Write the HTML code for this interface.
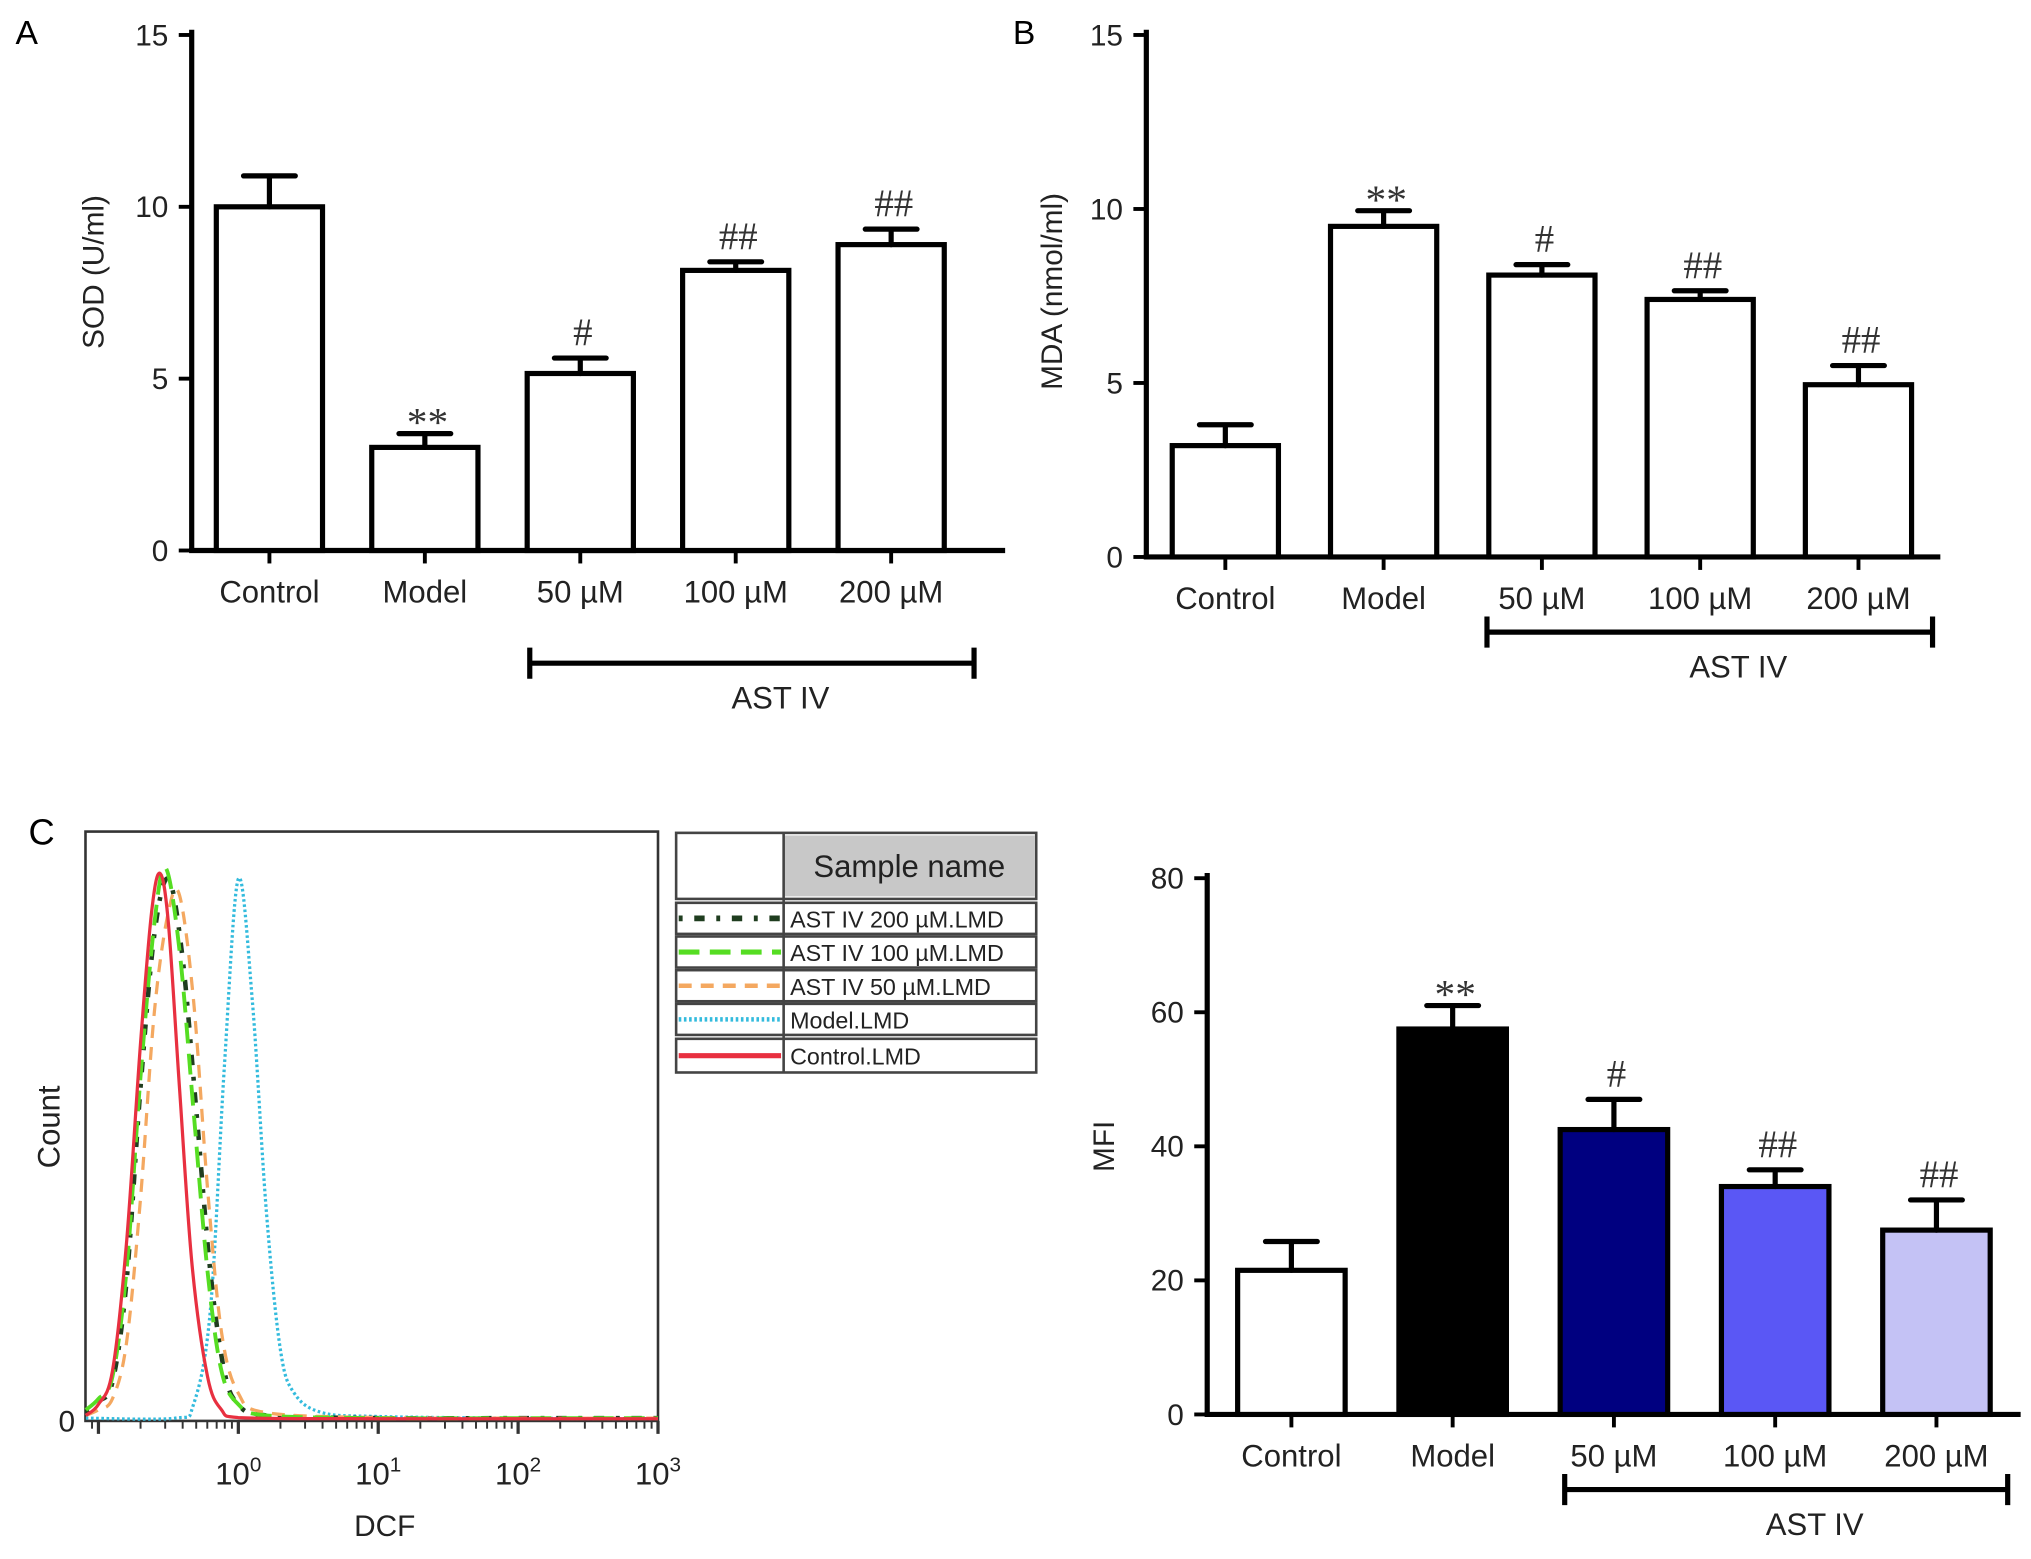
<!DOCTYPE html>
<html><head><meta charset="utf-8"><style>
html,body{margin:0;padding:0;background:#fff;}
svg{display:block;font-family:"Liberation Sans",sans-serif;}
</style></head><body>
<svg id="fig" width="2031" height="1559" viewBox="0 0 1568 1203.6">
<text x="12" y="34" font-size="26">A</text>
<text x="782" y="34" font-size="26">B</text>
<text x="22" y="652" font-size="28">C</text>
<g id="gA"></g>
<g id="gB"></g>
<g id="gH"></g>
<g id="gM"></g>
</svg>
<script>
const categories = ["Control","Model","50 µM","100 µM","200 µM"];
const sodValues = [10.0,3.0,5.15,8.15,8.9];
const sodErrors = [0.9,0.4,0.45,0.25,0.45];
const sodMarks = ["","**","#","##","##"];
const mdaValues = [3.2,9.5,8.1,7.4,4.95];
const mdaErrors = [0.6,0.45,0.3,0.25,0.55];
const mdaMarks = ["","**","#","##","##"];
const mfiValues = [21.5,57.5,42.5,34,27.5];
const mfiErrors = [4.3,3.5,4.5,2.5,4.5];
const mfiMarks = ["","**","#","##","##"];
const mfiColors = ["#ffffff","#000000","#000080","#5a57f5","#c4c2f5"];
const ticks15 = [0,5,10,15];
const ticks80 = [0,20,40,60,80];
// histogram series: [log10(DCF), count (% of max)]
const histControl = [[-1.09,1],[-1.0,3],[-0.9,9],[-0.8,32],[-0.7,68],[-0.62,92],[-0.56,99],[-0.5,90],[-0.42,60],[-0.33,28],[-0.22,8],[-0.12,2],[0,0.6],[1,0.4],[2,0.4],[3,0.4]];
const histModel = [[-1.09,0.5],[-0.45,0.5],[-0.32,3],[-0.2,20],[-0.1,64],[0,98],[0.1,76],[0.2,38],[0.3,13],[0.4,5],[0.6,1.5],[1,0.8],[2,0.5],[3,0.4]];
const hist100 = [[-1.09,2],[-1.0,4],[-0.9,8],[-0.8,27],[-0.7,62],[-0.6,90],[-0.52,100],[-0.42,85],[-0.32,56],[-0.22,27],[-0.12,9],[0,3],[0.2,1],[1,0.5],[2,0.5],[3,0.5]];
const hist200 = [[-1.09,1.5],[-1.0,3.5],[-0.9,7],[-0.8,25],[-0.7,60],[-0.6,88],[-0.5,98],[-0.4,84],[-0.3,56],[-0.2,27],[-0.1,9],[0,3],[0.2,1],[1,0.5],[2,0.5],[3,0.5]];
const hist50 = [[-1.09,1],[-1.0,2],[-0.9,4],[-0.8,14],[-0.7,40],[-0.6,74],[-0.5,92],[-0.42,95],[-0.32,76],[-0.22,42],[-0.12,16],[0,5],[0.2,1.5],[1,0.6],[2,0.5],[3,0.5]];
const histTickLabels = ["0","1","2","3"];
const legendNames = ["AST IV 200 µM.LMD","AST IV 100 µM.LMD","AST IV 50 µM.LMD","Model.LMD","Control.LMD"];

const NS="http://www.w3.org/2000/svg";
function mk(p,tag,at,txt){const e=document.createElementNS(NS,tag);for(const k in at)e.setAttribute(k,at[k]);if(txt!==undefined)e.textContent=txt;p.appendChild(e);return e;}

function barChart(gid,cfg){
  const g=document.getElementById(gid);
  const y=v=>cfg.y0-(v-0)*(cfg.y0-cfg.yTop)/cfg.max;
  const x=i=>cfg.x0+cfg.first+i*cfg.step;
  let a=mk(g,'line',{x1:cfg.xAxis,y1:cfg.yTop-4,x2:cfg.xAxis,y2:cfg.y0,stroke:'#000','stroke-width':4});
  
  a=mk(g,'line',{x1:cfg.xAxis-2,y1:cfg.y0,x2:cfg.xEnd,y2:cfg.y0,stroke:'#000','stroke-width':4});
  
  cfg.ticks.forEach(t=>{
    const l=mk(g,'line',{x1:cfg.xAxis-10,y1:y(t),x2:cfg.xAxis,y2:y(t),stroke:'#000','stroke-width':3});
    
    const tx=mk(g,'text',{x:cfg.xAxis-18,y:y(t)+8,'font-size':23,'text-anchor':'end',fill:'#222'},String(t));
    
  });
  const yt=mk(g,'text',{x:0,y:0,'font-size':23,'text-anchor':'middle',fill:'#222',transform:`translate(${cfg.titleX},${cfg.titleY}) rotate(-90)`},cfg.title);
  
  cfg.values.forEach((v,i)=>{
    const cx=x(i),w=cfg.bw;
    const r=mk(g,'rect',{x:cx-w/2,y:y(v),width:w,height:cfg.y0-y(v),fill:cfg.colors?cfg.colors[i]:'#fff',stroke:'#000','stroke-width':4});
    
    const e=cfg.errors[i];
    const el=mk(g,'path',{d:`M${cx},${y(v)} V${y(v+e)} M${cx-20},${y(v+e)} H${cx+20}`,stroke:'#000','stroke-width':4,fill:'none','stroke-linecap':'round'});
    
    const tk=mk(g,'line',{x1:cx,y1:cfg.y0,x2:cx,y2:cfg.y0+10,stroke:'#000','stroke-width':3});
    
    const lb=mk(g,'text',{x:cx,y:cfg.y0+40,'font-size':24,'text-anchor':'middle',fill:'#222'},categories[i]);
    
    if(cfg.marks[i]){const st=cfg.marks[i]=='**';const m=mk(g,'text',{x:cx+2,y:y(v+e)-(st?-2:10),'font-size':st?32:30,'text-anchor':'middle',fill:'#333','font-family':'Liberation Serif, serif'},cfg.marks[i]);
      }
  });
  const b=mk(g,'path',{d:`M${cfg.br0},${cfg.brY} H${cfg.br1} M${cfg.br0},${cfg.brY-12} V${cfg.brY+12} M${cfg.br1},${cfg.brY-12} V${cfg.brY+12}`,stroke:'#000','stroke-width':4,fill:'none'});
  
  const bt=mk(g,'text',{x:(cfg.br0+cfg.br1)/2+22,y:cfg.brY+35,'font-size':24,'text-anchor':'middle',fill:'#222'},'AST IV');
  
}
barChart('gA',{xAxis:148,xEnd:776,x0:0,first:208,step:120,bw:82,y0:425,yTop:27,max:15,ticks:ticks15,values:sodValues,errors:sodErrors,marks:sodMarks,title:'SOD (U/ml)',titleX:80,titleY:210,br0:409,br1:752,brY:512});
barChart('gB',{xAxis:885,xEnd:1498,x0:0,first:946,step:122.2,bw:82,y0:430,yTop:27,max:15,ticks:ticks15,values:mdaValues,errors:mdaErrors,marks:mdaMarks,title:'MDA (nmol/ml)',titleX:820,titleY:225,br0:1148,br1:1492,brY:488});
barChart('gM',{xAxis:932,xEnd:1560,x0:0,first:997,step:124.5,bw:83,y0:1092,yTop:678,max:80,ticks:ticks80,values:mfiValues,errors:mfiErrors,marks:mfiMarks,colors:mfiColors,title:'MFI',titleX:860,titleY:885,br0:1208,br1:1550,brY:1150});

// histogram
(function(){
  const g=document.getElementById('gH');
  const L=66,R=508,T=642,B=1097;
  const X=l=>184+l*108, Y=c=>B-c*(B-670)/100;
  let f=mk(g,'rect',{x:L,y:T,width:R-L,height:B-T,fill:'#fff',stroke:'#333','stroke-width':2});
  
  const z=mk(g,'text',{x:58,y:1105,'font-size':23,'text-anchor':'end',fill:'#222'},'0');
  
  for(let d=-2;d<3;d++){for(let k=1;k<=9;k++){const lx=X(d+Math.log10(k));if(lx<L||lx>R)continue;
    const t=mk(g,'line',{x1:lx,y1:B,x2:lx,y2:B+(k==1?10:6),stroke:'#333','stroke-width':k==1?2.5:1.5});
    }}
  const lt=mk(g,'line',{x1:R,y1:B,x2:R,y2:B+10,stroke:'#333','stroke-width':2.5});
  
  histTickLabels.forEach((s,i)=>{const t=mk(g,'text',{x:X(i),y:1146,'font-size':24,'text-anchor':'middle',fill:'#222'});
    
    mk(t,'tspan',{},'10');mk(t,'tspan',{dy:-10,'font-size':16},s);});
  const dt=mk(g,'text',{x:297,y:1186,'font-size':23,'text-anchor':'middle',fill:'#222'},'DCF');
  
  const ct=mk(g,'text',{x:0,y:0,'font-size':24,'text-anchor':'middle',fill:'#222',transform:'translate(46,870) rotate(-90)'},'Count');
  
  const styles=[
    {d:hist200,c:'#1f3d1f',w:3.5,da:'3 9 8 9'},
    {d:hist100,c:'#55dd22',w:3,da:'16 8'},
    {d:hist50,c:'#f4a860',w:2.5,da:'10 7'},
    {d:histModel,c:'#33bbdd',w:2.5,da:'2 2'},
    {d:histControl,c:'#e83040',w:2.5,da:''}];
  const order=[3,0,2,1,4];
  function path(pts){const P=pts.map(p=>[X(p[0]),Y(p[1])]);let s=`M${P[0][0]},${P[0][1]}`;
    for(let i=0;i<P.length-1;i++){const p0=P[Math.max(0,i-1)],p1=P[i],p2=P[i+1],p3=P[Math.min(P.length-1,i+2)];
      let c1=[p1[0]+(p2[0]-p0[0])/6,p1[1]+(p2[1]-p0[1])/6],c2=[p2[0]-(p3[0]-p1[0])/6,p2[1]-(p3[1]-p1[1])/6];
      c1[0]=Math.min(Math.max(c1[0],p1[0]),p2[0]);c2[0]=Math.min(Math.max(c2[0],p1[0]),p2[0]);
      c1[1]=Math.min(c1[1],B);c2[1]=Math.min(c2[1],B);
      s+=` C${c1[0]},${c1[1]} ${c2[0]},${c2[1]} ${p2[0]},${p2[1]}`;}return s;}
  const names=['series-ast-200','series-ast-100','series-ast-50','series-model','series-control'];
  order.forEach(i=>{const st=styles[i];const p=mk(g,'path',{d:path(st.d),fill:'none',stroke:st.c,'stroke-width':st.w,'stroke-dasharray':st.da});
    });
  // legend
  const lg=mk(g,'g',{});
  
  const hb=mk(lg,'rect',{x:522,y:643,width:278,height:51,fill:'#fff',stroke:'#444','stroke-width':2});
  
  const hg=mk(lg,'rect',{x:605,y:645,width:194,height:47,fill:'#c8c8c8'});
  
  const ht=mk(lg,'text',{x:702,y:677,'font-size':24,'text-anchor':'middle',fill:'#222'},'Sample name');
  
  mk(lg,'line',{x1:605,y1:643,x2:605,y2:828,stroke:'#444','stroke-width':2});
  const rowY=[697,723,749,775,802];
  legendNames.forEach((n,i)=>{const y=rowY[i],h=(i==4?26:24);
    const r=mk(lg,'rect',{x:522,y:y,width:278,height:h,fill:'none',stroke:'#444','stroke-width':2});
    
    const st=styles[i];const l=mk(lg,'line',{x1:524,y1:y+h/2,x2:603,y2:y+h/2,stroke:st.c,'stroke-width':i==4?4:st.w+1,'stroke-dasharray':st.da});
    
    const t=mk(lg,'text',{x:610,y:y+h/2+7,'font-size':18,fill:'#222'},n);
    });
})();
</script>
</body></html>
